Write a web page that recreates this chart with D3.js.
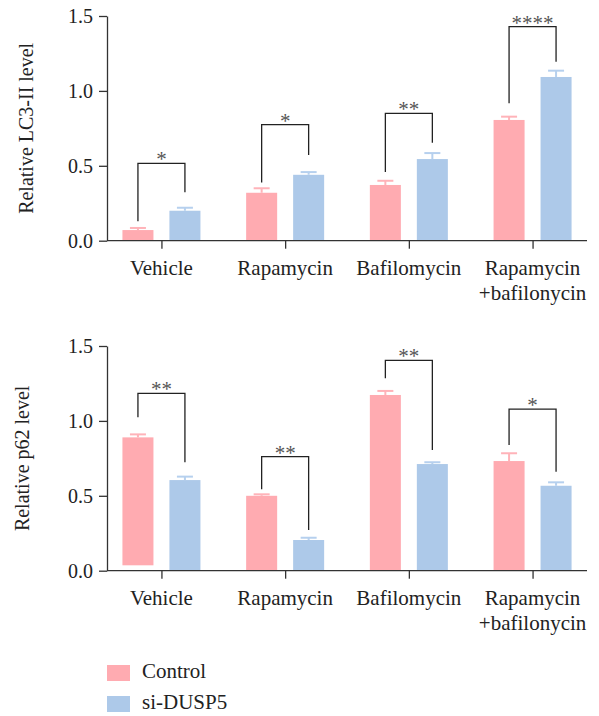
<!DOCTYPE html>
<html>
<head>
<meta charset="utf-8">
<script src="https://cdn.jsdelivr.net/npm/d3@7"></script>
<style>
  body { margin: 0; background: #fff; }
</style>
</head>
<body>
<div id="chart"></div>
<script>
var width = 599, height = 716;
var FONT = "'Liberation Serif', 'Times New Roman', 'DejaVu Serif', serif";

// data
const categories = [["Vehicle"], ["Rapamycin"], ["Bafilomycin"], ["Rapamycin", "+bafilonycin"]];
const catKeys = ["veh", "rap", "baf", "rapbaf"];
const seriesNames = ["Control", "si-DUSP5"];
const yTicks = [0, 0.5, 1.0, 1.5];

const lc3Control = [0.071, 0.32, 0.372, 0.806];
const lc3ControlErr = [0.014, 0.03, 0.028, 0.022];
const lc3Si = [0.20, 0.44, 0.545, 1.093];
const lc3SiErr = [0.02, 0.018, 0.04, 0.042];
const lc3Stars = ["*", "*", "**", "****"];
const lc3Bracket = [0.516, 0.775, 0.85, 1.429];
const lc3LegLeft = [0.13, 0.388, 0.459, 0.917];
const lc3LegRight = [0.323, 0.572, 0.654, 1.195];

const p62Control = [0.89, 0.50, 1.173, 0.732];
const p62ControlBase = [0.036, 0, 0, 0];
const p62ControlErr = [0.02, 0.01, 0.027, 0.052];
const p62Si = [0.605, 0.205, 0.712, 0.567];
const p62SiErr = [0.023, 0.015, 0.012, 0.023];
const p62Stars = ["**", "**", "**", "*"];
const p62Bracket = [1.184, 0.761, 1.404, 1.079];
const p62LegLeft = [1.024, 0.543, 1.284, 0.839];
const p62LegRight = [0.724, 0.272, 0.806, 0.661];

const colors = { "Control": "#ffabb1", "si-DUSP5": "#adc9e9" };
const errColors = { "Control": "#ffb3b9", "si-DUSP5": "#b6d0ee" };

let svg = d3.select('#chart')
  .append('svg')
  .attr('width', width)
  .attr('height', height)
  .style('font-family', FONT);

let x = d3.scalePoint().domain(catKeys).range([107, 587]).padding(0.44);
let x1 = d3.scaleBand().domain(seriesNames).range([-39, 39]).paddingInner(0.34).paddingOuter(0);

let drawPanel = (top, bottom, title, titleX, ctrl, ctrlBase, ctrlErr, si, siErr, stars, br, legL, legR) => {
  let y = d3.scaleLinear().domain([0, 1.5]).range([bottom, top]);
  let g = svg.append('g');

  let rows = [];
  catKeys.forEach((k, i) => {
    rows.push({ cat: k, s: "Control", v: ctrl[i], b: ctrlBase[i], e: ctrlErr[i] });
    rows.push({ cat: k, s: "si-DUSP5", v: si[i], b: 0, e: siErr[i] });
  });

  // bars
  g.selectAll('rect.bar')
    .data(rows)
    .enter()
    .append('rect')
    .attr('class', 'bar')
    .attr('x', d => x(d.cat) + x1(d.s))
    .attr('y', d => y(d.v))
    .attr('width', x1.bandwidth())
    .attr('height', d => y(d.b) - y(d.v))
    .attr('fill', d => colors[d.s]);

  // error bars (upper only)
  let eb = g.selectAll('g.err').data(rows).enter().append('g').attr('class', 'err');
  eb.append('line')
    .attr('x1', d => x(d.cat) + x1(d.s) + x1.bandwidth() / 2)
    .attr('x2', d => x(d.cat) + x1(d.s) + x1.bandwidth() / 2)
    .attr('y1', d => y(d.v))
    .attr('y2', d => y(d.v + d.e))
    .attr('stroke', d => errColors[d.s])
    .attr('stroke-width', 2);
  eb.append('line')
    .attr('x1', d => x(d.cat) + x1(d.s) + x1.bandwidth() / 2 - 8)
    .attr('x2', d => x(d.cat) + x1(d.s) + x1.bandwidth() / 2 + 8)
    .attr('y1', d => y(d.v + d.e))
    .attr('y2', d => y(d.v + d.e))
    .attr('stroke', d => errColors[d.s])
    .attr('stroke-width', 2);

  // significance brackets
  catKeys.forEach((k, i) => {
    let xl = x(k) + x1("Control") + x1.bandwidth() / 2;
    let xr = x(k) + x1("si-DUSP5") + x1.bandwidth() / 2;
    g.append('path')
      .attr('d', `M${xl},${y(legL[i])}V${y(br[i])}H${xr}V${y(legR[i])}`)
      .attr('fill', 'none')
      .attr('stroke', '#222')
      .attr('stroke-width', 1.3);
    g.append('text')
      .attr('x', (xl + xr) / 2)
      .attr('y', y(br[i]) + 3)
      .attr('text-anchor', 'middle')
      .style('font-family', FONT)
      .style('font-size', '21px')
      .style('fill', '#555')
      .text(stars[i]);
  });

  // axes
  let yAxis = d3.axisLeft(y).tickValues(yTicks).tickFormat(d3.format('.1f')).tickSize(8).tickSizeOuter(0).tickPadding(6);
  let ya = g.append('g').attr('class', 'axis').attr('transform', 'translate(107,0)').call(yAxis);
  ya.attr('font-family', null);
  ya.selectAll('text').style('font-family', FONT).style('font-size', '20px').style('fill', '#222');

  let xAxis = d3.axisBottom(x).tickSize(8).tickSizeOuter(0).tickFormat('');
  let xa = g.append('g').attr('class', 'axis').attr('transform', `translate(0,${bottom})`).call(xAxis);
  xa.select('.domain').attr('d', 'M107,0H587');

  g.selectAll('.axis path, .axis line').attr('stroke', '#333').attr('stroke-width', 1.3);

  catKeys.forEach((k, i) => {
    let t = g.append('text')
      .attr('x', x(k))
      .attr('y', bottom + 34)
      .attr('text-anchor', 'middle')
      .style('font-family', FONT)
      .style('font-size', '21px')
      .style('fill', '#222');
    categories[i].forEach((line, j) => {
      t.append('tspan').attr('x', x(k)).attr('dy', j === 0 ? 0 : 25).text(line);
    });
  });

  g.append('text')
    .attr('transform', `translate(${titleX},${(top + bottom) / 2}) rotate(-90)`)
    .attr('text-anchor', 'middle')
    .style('font-family', FONT)
    .style('font-size', '20px')
    .style('fill', '#222')
    .text(title);
};

drawPanel(16, 240.7, 'Relative LC3-II level', 33, lc3Control, [0, 0, 0, 0], lc3ControlErr, lc3Si, lc3SiErr, lc3Stars, lc3Bracket, lc3LegLeft, lc3LegRight);
drawPanel(346, 570.7, 'Relative p62 level', 29, p62Control, p62ControlBase, p62ControlErr, p62Si, p62SiErr, p62Stars, p62Bracket, p62LegLeft, p62LegRight);

// legend
let legend = svg.append('g')
  .selectAll('g')
  .data(seriesNames)
  .enter()
  .append('g')
  .attr('transform', (d, i) => `translate(107,${665 + i * 31})`);
legend.append('rect')
  .attr('width', 23)
  .attr('height', 16)
  .attr('fill', d => colors[d]);
legend.append('text')
  .attr('x', 35)
  .attr('y', 13)
  .style('font-family', FONT)
  .style('font-size', '21px')
  .style('fill', '#222')
  .text(d => d);
</script>
</body>
</html>
